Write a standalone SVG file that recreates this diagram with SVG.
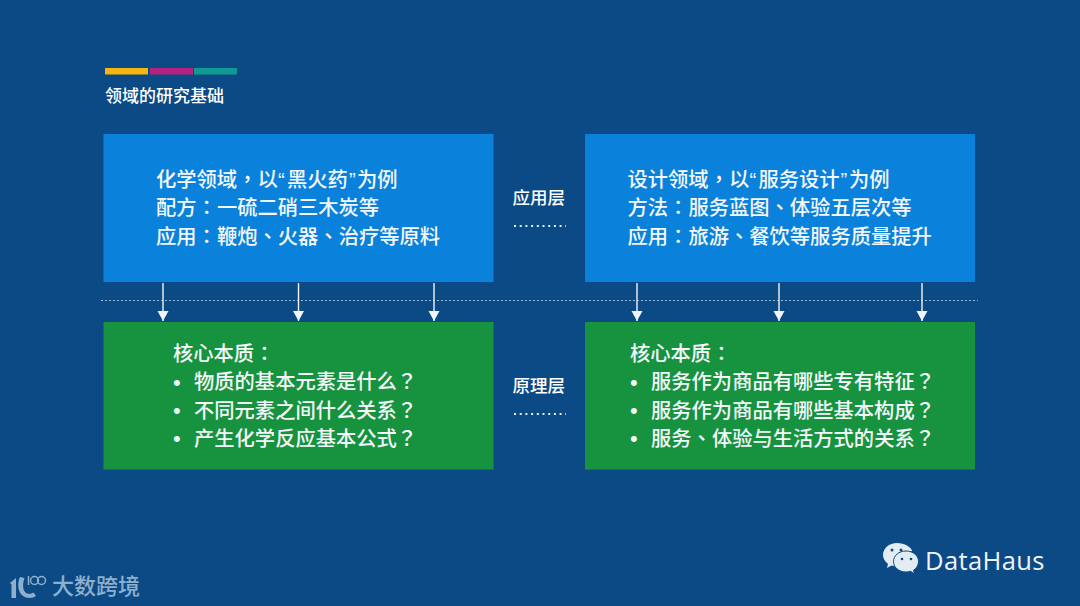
<svg xmlns="http://www.w3.org/2000/svg" width="1080" height="606" viewBox="0 0 1080 606">
<style>
text{font-family:"Noto Sans CJK SC","Noto Sans",sans-serif;fill:#fff}
.b{font-size:20.300px;fill:#f4f8fb;font-weight:500}
.m{font-size:17.500px;font-weight:500}
.t{font-size:17px;font-weight:500}
.p{font-family:"Noto Sans CJK TC",sans-serif}
.q{font-family:"Liberation Sans",sans-serif}
.d{font-family:"Liberation Sans",sans-serif;font-size:22px;fill:#f4f8fb}
.blue{fill:#0a81da}
.green{fill:#17933f}
.arr{stroke:#f2f5f8;stroke-width:1.400;fill:none;marker-end:url(#ah)}
.dots{stroke:#e8eef4;stroke-width:2;stroke-dasharray:2 3.700;fill:none}
</style>
<defs><marker id="ah" markerUnits="userSpaceOnUse" markerWidth="10" markerHeight="12" refX="10" refY="6" orient="auto" viewBox="0 0 10 12"><path d="M0 0.500 L10 6 L0 11.500Z" fill="#f2f5f8"/></marker></defs>
<rect width="1080" height="606" fill="#0b4a85"/>
<g id="title">
<rect x="105" y="68" width="43" height="6.500" fill="#f6b50f"/>
<rect x="150" y="68" width="43" height="6.500" fill="#b4237f"/>
<rect x="194" y="68" width="43" height="6.500" fill="#0e9b95"/>
<text class="t" x="105" y="102">领域的研究基础</text>
</g>
<g id="connectors">
<path d="M101 300.500H978" stroke="#9db6cf" stroke-width="1" stroke-dasharray="2 2" fill="none"/>
<path class="arr" d="M163 283V321"/><path class="arr" d="M298.500 283V321"/><path class="arr" d="M434 283V321"/>
<path class="arr" d="M637 283V321"/><path class="arr" d="M779 283V321"/><path class="arr" d="M922 283V321"/>
</g>
<g id="node-chem-app">
<rect class="blue" x="103.500" y="134" width="390" height="148"/>
<text class="b" y="186.500"><tspan x="156">化学领域</tspan><tspan class="p">，</tspan><tspan>以</tspan><tspan class="q" x="278">“</tspan><tspan x="287">黑火药</tspan><tspan class="q" x="349">”</tspan><tspan x="357">为例</tspan></text>
<text class="b" x="156" y="215">配方<tspan class="p">：</tspan>一硫二硝三木炭等</text>
<text class="b" x="156" y="243.500">应用<tspan class="p">：</tspan>鞭炮<tspan class="p">、</tspan>火器<tspan class="p">、</tspan>治疗等原料</text>
</g>
<g id="node-design-app">
<rect class="blue" x="585" y="134" width="390" height="148"/>
<text class="b" y="186.500"><tspan x="627.500">设计领域</tspan><tspan class="p">，</tspan><tspan>以</tspan><tspan class="q" x="749.500">“</tspan><tspan x="758.500">服务设计</tspan><tspan class="q" x="840.500">”</tspan><tspan x="849">为例</tspan></text>
<text class="b" x="627.500" y="215">方法<tspan class="p">：</tspan>服务蓝图<tspan class="p">、</tspan>体验五层次等</text>
<text class="b" x="627.500" y="243.500">应用<tspan class="p">：</tspan>旅游<tspan class="p">、</tspan>餐饮等服务质量提升</text>
</g>
<g id="node-chem-core">
<rect class="green" x="103.500" y="322" width="390" height="147.500"/>
<text class="b" x="173" y="360.500">核心本质<tspan class="p">：</tspan></text>
<text class="d" x="173" y="390">•</text><text class="b" x="194" y="389">物质的基本元素是什么<tspan class="p">？</tspan></text>
<text class="d" x="173" y="418">•</text><text class="b" x="194" y="417.500">不同元素之间什么关系<tspan class="p">？</tspan></text>
<text class="d" x="173" y="446">•</text><text class="b" x="194" y="445.500">产生化学反应基本公式<tspan class="p">？</tspan></text>
</g>
<g id="node-design-core">
<rect class="green" x="585" y="322" width="390" height="147.500"/>
<text class="b" x="630" y="360.500">核心本质<tspan class="p">：</tspan></text>
<text class="d" x="630" y="390">•</text><text class="b" x="651" y="389">服务作为商品有哪些专有特征<tspan class="p">？</tspan></text>
<text class="d" x="630" y="418">•</text><text class="b" x="651" y="417.500">服务作为商品有哪些基本构成<tspan class="p">？</tspan></text>
<text class="d" x="630" y="446">•</text><text class="b" x="651" y="445.500">服务<tspan class="p">、</tspan>体验与生活方式的关系<tspan class="p">？</tspan></text>
</g>
<g id="label-app">
<text class="m" x="512.500" y="203.500">应用层</text>
<path class="dots" d="M514 226H566"/>
</g>
<g id="label-core">
<text class="m" x="512.500" y="391.500">原理层</text>
<path class="dots" d="M514 414H566"/>
</g>
<g id="watermark-left" fill="#8fb0cc">
<path d="M10 583l6-5v20h-4.500v-13.500zM20 577c-3 6-2 15 2.500 18.500 4.500 3.500 10 3 13.500 .5l-2.500-3.500c-2.500 1.500-6 2-8 0-3-3-3-9-1-14.500z"/>
<g fill="none" stroke="#8fb0cc" stroke-width="1.500"><circle cx="34.500" cy="580.500" r="4"/><circle cx="41.500" cy="580.500" r="4"/><path d="M28.500 576v9"/></g>
<text x="52" y="594" style="font-size:22px;fill:#8fb0cc;font-weight:500">大数跨境</text>
</g>
<g id="watermark-right">
<path d="M897 543c-8 0-14 5.500-14 12 0 3.500 2 6.500 5 9l-1 4 4.500-2.500c1.500.5 3 .7 5 .7 1 0 2-.1 3-.3-.5-1-.7-2.500-.7-3.700 0-6 5.500-11 12.500-11h1c-1.500-4.500-7.500-8.200-15.300-8.200z" fill="#e4ecf3"/>
<path d="M906 551c-7 0-12.500 4.500-12.500 10.500S899 572 906 572c1.500 0 3-.2 4.500-.7l4 2.500-1-3.500c3-2 5-5 5-8.800 0-6-5.500-10.500-12.500-10.500z" fill="#e4ecf3" stroke="#0b4a85" stroke-width="1"/>
<circle cx="892" cy="550" r="1.500" fill="#0b4a85"/><circle cx="901" cy="550" r="1.500" fill="#0b4a85"/><circle cx="902" cy="559" r="1.300" fill="#0b4a85"/><circle cx="911" cy="559" r="1.300" fill="#0b4a85"/>
<text x="925" y="570" style="font-family:'Open Sans','Noto Sans',sans-serif;font-size:25.500px;letter-spacing:.4px;fill:#f0f4f8">DataHaus</text>
</g>
</svg>
